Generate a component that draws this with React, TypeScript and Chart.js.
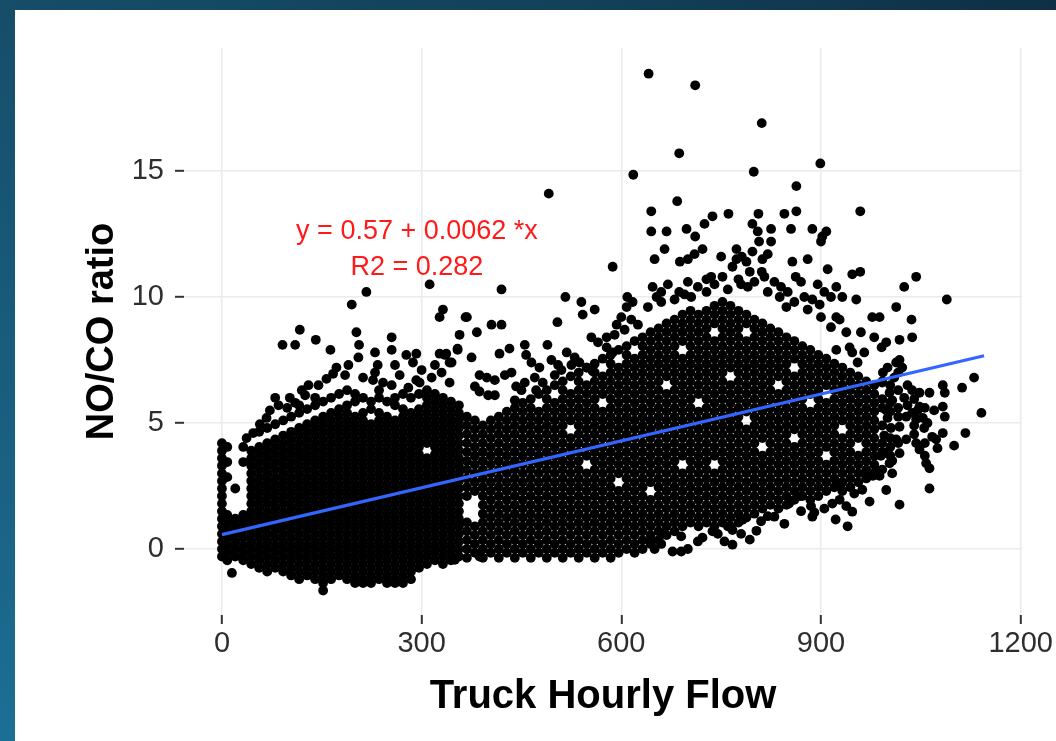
import React, { useEffect, useRef } from "react";
import { Chart, registerables } from "chart.js";

Chart.register(...registerables);

// ---- axis ticks and labels ----
const xTicks = [0, 300, 600, 900, 1200];
const yTicks = [0, 5, 10, 15];
const xTitle = "Truck Hourly Flow";
const yTitle = "NO/CO ratio";

// ---- regression line ----
const fitX = [0, 1145];
const fitY = [0.57, 7.67];
const equationText = "y = 0.57 + 0.0062 *x";
const r2Text = "R2 = 0.282";
const labelX = 293;
const labelY = [12.6, 11.15];

// ---- dense low-flow cloud: [flow, ratio, ratio, ...] ----
const lowFlowCore: number[][] = [
  [0, -0.3, 0, 0.3, 0.6, 0.9, 1.2, 1.5, 1.8, 2.1, 2.4, 2.7, 3, 3.3, 3.6, 3.9, 4.2],
  [8, -0.45, -0.15, 0.15, 0.45, 0.75, 1.05, 1.35, 2.85, 3.45, 4.05],
  [20, -0.3, 0, 0.3, 0.6, 0.9, 1.2, 2.4],
  [32, -0.45, -0.15, 0.15, 0.45, 0.75, 1.05, 1.35, 3.45, 4.05],
  [44, -0.6, -0.3, 0, 0.3, 0.6, 0.9, 1.2, 1.5, 1.8, 2.1, 2.4, 2.7, 3, 3.3, 3.6, 3.9],
  [56, -0.75, -0.45, -0.15, 0.15, 0.45, 0.75, 1.05, 1.35, 1.65, 1.95, 2.25, 2.55, 2.85, 3.15, 3.45, 3.75, 4.05, 4.65],
  [68, -0.9, -0.6, -0.3, 0, 0.3, 0.6, 0.9, 1.2, 1.5, 1.8, 2.1, 2.4, 2.7, 3, 3.3, 3.6, 3.9, 4.2, 4.8],
  [80, -0.75, -0.45, -0.15, 0.15, 0.45, 0.75, 1.05, 1.35, 1.65, 1.95, 2.25, 2.55, 2.85, 3.15, 3.45, 3.75, 4.05, 4.35, 4.95],
  [92, -0.9, -0.6, -0.3, 0, 0.3, 0.6, 0.9, 1.2, 1.5, 1.8, 2.1, 2.4, 2.7, 3, 3.3, 3.6, 3.9, 4.2, 4.5, 5.1],
  [104, -1.05, -0.75, -0.45, -0.15, 0.15, 0.45, 0.75, 1.05, 1.35, 1.65, 1.95, 2.25, 2.55, 2.85, 3.15, 3.45, 3.75, 4.05, 4.35, 4.65, 5.25],
  [116, -1.2, -0.9, -0.6, -0.3, 0, 0.3, 0.6, 0.9, 1.2, 1.5, 1.8, 2.1, 2.4, 2.7, 3, 3.3, 3.6, 3.9, 4.2, 4.5, 4.8, 5.4, 5.7],
  [128, -1.05, -0.75, -0.45, -0.15, 0.15, 0.45, 0.75, 1.05, 1.35, 1.65, 1.95, 2.25, 2.55, 2.85, 3.15, 3.45, 3.75, 4.05, 4.35, 4.65, 4.95, 5.55],
  [140, -1.2, -0.9, -0.6, -0.3, 0, 0.3, 0.6, 0.9, 1.2, 1.5, 1.8, 2.1, 2.4, 2.7, 3, 3.3, 3.6, 3.9, 4.2, 4.5, 4.8, 5.1, 5.7, 6],
  [152, -1.65, -1.35, -1.05, -0.75, -0.45, -0.15, 0.15, 0.45, 0.75, 1.05, 1.35, 1.65, 1.95, 2.25, 2.55, 2.85, 3.15, 3.45, 3.75, 4.05, 4.35, 4.65, 4.95, 5.25, 5.85],
  [164, -1.2, -0.9, -0.6, -0.3, 0, 0.3, 0.6, 0.9, 1.2, 1.5, 1.8, 2.1, 2.4, 2.7, 3, 3.3, 3.6, 3.9, 4.2, 4.5, 4.8, 5.1, 5.4, 6],
  [176, -1.05, -0.75, -0.45, -0.15, 0.15, 0.45, 0.75, 1.05, 1.35, 1.65, 1.95, 2.25, 2.55, 2.85, 3.15, 3.45, 3.75, 4.05, 4.35, 4.65, 4.95, 5.25, 5.55, 6.15],
  [188, -1.2, -0.9, -0.6, -0.3, 0, 0.3, 0.6, 0.9, 1.2, 1.5, 1.8, 2.1, 2.4, 2.7, 3, 3.3, 3.6, 3.9, 4.2, 4.5, 4.8, 5.1, 5.4, 5.7, 6.3],
  [200, -1.35, -1.05, -0.75, -0.45, -0.15, 0.15, 0.45, 0.75, 1.05, 1.35, 1.65, 1.95, 2.25, 2.55, 2.85, 3.15, 3.45, 3.75, 4.05, 4.35, 4.65, 4.95, 5.25, 5.85, 6.15],
  [212, -1.35, -1.2, -0.9, -0.6, -0.3, 0, 0.3, 0.6, 0.9, 1.2, 1.5, 1.8, 2.1, 2.4, 2.7, 3, 3.3, 3.6, 3.9, 4.2, 4.5, 4.8, 5.1, 5.4, 6],
  [224, -1.35, -1.05, -0.75, -0.45, -0.15, 0.15, 0.45, 0.75, 1.05, 1.35, 1.65, 1.95, 2.25, 2.55, 2.85, 3.15, 3.45, 3.75, 4.05, 4.35, 4.65, 4.95, 5.55, 5.85],
  [236, -1.2, -0.9, -0.6, -0.3, 0, 0.3, 0.6, 0.9, 1.2, 1.5, 1.8, 2.1, 2.4, 2.7, 3, 3.3, 3.6, 3.9, 4.2, 4.5, 4.8, 5.1, 5.4, 6, 6.3],
  [248, -1.35, -1.05, -0.75, -0.45, -0.15, 0.15, 0.45, 0.75, 1.05, 1.35, 1.65, 1.95, 2.25, 2.55, 2.85, 3.15, 3.45, 3.75, 4.05, 4.35, 4.65, 4.95, 5.25, 5.85],
  [260, -1.35, -1.2, -0.9, -0.6, -0.3, 0, 0.3, 0.6, 0.9, 1.2, 1.5, 1.8, 2.1, 2.4, 2.7, 3, 3.3, 3.6, 3.9, 4.2, 4.5, 4.8, 5.1, 5.7, 6],
  [272, -1.35, -1.05, -0.75, -0.45, -0.15, 0.15, 0.45, 0.75, 1.05, 1.35, 1.65, 1.95, 2.25, 2.55, 2.85, 3.15, 3.45, 3.75, 4.05, 4.35, 4.65, 4.95, 5.25, 5.55, 6.15],
  [284, -1.2, -0.9, -0.6, -0.3, 0, 0.3, 0.6, 0.9, 1.2, 1.5, 1.8, 2.1, 2.4, 2.7, 3, 3.3, 3.6, 3.9, 4.2, 4.5, 4.8, 5.1, 5.4, 6],
  [296, -0.75, -0.45, -0.15, 0.15, 0.45, 0.75, 1.05, 1.35, 1.65, 1.95, 2.25, 2.55, 2.85, 3.15, 3.45, 3.75, 4.05, 4.35, 4.65, 4.95, 5.25, 5.55, 6.15],
  [308, -0.6, -0.3, 0, 0.3, 0.6, 0.9, 1.2, 1.5, 1.8, 2.1, 2.4, 2.7, 3, 3.3, 3.6, 4.2, 4.5, 4.8, 5.1, 5.4, 5.7, 6, 6.3],
  [320, -0.45, -0.15, 0.15, 0.45, 0.75, 1.05, 1.35, 1.65, 1.95, 2.25, 2.55, 2.85, 3.15, 3.45, 3.75, 4.05, 4.35, 4.65, 4.95, 5.25, 5.55, 5.85, 6.15],
  [332, -0.6, -0.3, 0, 0.3, 0.6, 0.9, 1.2, 1.5, 1.8, 2.1, 2.4, 2.7, 3, 3.3, 3.6, 3.9, 4.2, 4.5, 4.8, 5.1, 5.4, 5.7, 6],
  [344, -0.45, -0.15, 0.15, 0.45, 0.75, 1.05, 1.35, 1.65, 1.95, 2.25, 2.55, 2.85, 3.15, 3.45, 3.75, 4.05, 4.35, 4.65, 4.95, 5.25, 5.55, 5.85],
  [356, -0.3, 0, 0.3, 0.6, 0.9, 1.2, 1.5, 1.8, 2.1, 2.4, 2.7, 3, 3.3, 3.6, 3.9, 4.2, 4.5, 4.8, 5.1, 5.4, 5.7],
];

// ---- dense high-flow cloud: [flow, ratio, ratio, ...] ----
const highFlowCore: number[][] = [
  [368, -0.35, 0, 0.35, 0.7, 1.05, 2.1, 2.45, 2.8, 3.15, 3.5, 3.85, 4.2, 4.55, 4.9, 5.25],
  [380, -0.15, 0.2, 0.55, 0.9, 2.3, 2.65, 3, 3.35, 3.7, 4.05, 4.4, 4.75, 5.1],
  [392, -0.35, 0, 0.35, 0.7, 1.05, 1.4, 1.75, 2.1, 2.45, 2.8, 3.15, 3.5, 3.85, 4.2, 4.55, 4.9],
  [404, -0.15, 0.2, 0.55, 0.9, 1.25, 1.6, 1.95, 2.3, 2.65, 3, 3.35, 3.7, 4.05, 4.4, 4.75, 5.1],
  [416, -0.35, 0, 0.35, 0.7, 1.05, 1.4, 1.75, 2.1, 2.45, 2.8, 3.15, 3.5, 3.85, 4.2, 4.55, 4.9, 5.25],
  [428, -0.15, 0.2, 0.55, 0.9, 1.25, 1.6, 1.95, 2.3, 2.65, 3, 3.35, 3.7, 4.05, 4.4, 4.75, 5.1, 5.45],
  [440, -0.35, 0, 0.35, 0.7, 1.05, 1.4, 1.75, 2.1, 2.45, 2.8, 3.15, 3.5, 3.85, 4.2, 4.55, 4.9, 5.25, 5.6],
  [452, -0.15, 0.2, 0.55, 0.9, 1.25, 1.6, 1.95, 2.3, 2.65, 3, 3.35, 3.7, 4.05, 4.4, 4.75, 5.1, 5.45, 5.8],
  [464, -0.35, 0, 0.35, 0.7, 1.05, 1.4, 1.75, 2.1, 2.45, 2.8, 3.15, 3.5, 3.85, 4.2, 4.55, 4.9, 5.25, 5.6, 5.95],
  [476, -0.15, 0.2, 0.55, 0.9, 1.25, 1.6, 1.95, 2.3, 2.65, 3, 3.35, 3.7, 4.05, 4.4, 4.75, 5.1, 5.45, 6.15],
  [488, -0.35, 0, 0.35, 0.7, 1.05, 1.4, 1.75, 2.1, 2.45, 2.8, 3.15, 3.5, 3.85, 4.2, 4.55, 4.9, 5.25, 5.6, 5.95, 6.3],
  [500, -0.15, 0.2, 0.55, 0.9, 1.25, 1.6, 1.95, 2.3, 2.65, 3, 3.35, 3.7, 4.05, 4.4, 4.75, 5.1, 5.45, 5.8, 6.5],
  [512, -0.35, 0, 0.35, 0.7, 1.05, 1.4, 1.75, 2.1, 2.45, 2.8, 3.15, 3.5, 3.85, 4.2, 4.55, 4.9, 5.25, 5.6, 5.95, 6.3, 6.65],
  [524, -0.15, 0.2, 0.55, 0.9, 1.25, 1.6, 1.95, 2.3, 2.65, 3, 3.35, 3.7, 4.05, 4.4, 5.1, 5.45, 5.8, 6.15, 6.85],
  [536, -0.35, 0, 0.35, 0.7, 1.05, 1.4, 1.75, 2.1, 2.45, 2.8, 3.15, 3.5, 3.85, 4.2, 4.55, 4.9, 5.25, 5.6, 5.95, 6.3, 6.65, 7],
  [548, -0.15, 0.2, 0.55, 0.9, 1.25, 1.6, 1.95, 2.3, 2.65, 3, 3.7, 4.05, 4.4, 4.75, 5.1, 5.45, 5.8, 6.15, 6.5, 7.2],
  [560, -0.35, 0, 0.35, 0.7, 1.05, 1.4, 1.75, 2.1, 2.45, 2.8, 3.15, 3.5, 3.85, 4.2, 4.55, 4.9, 5.25, 5.6, 5.95, 6.3, 6.65, 7, 7.35],
  [572, -0.15, 0.2, 0.55, 0.9, 1.25, 1.6, 1.95, 2.3, 2.65, 3, 3.35, 3.7, 4.05, 4.4, 4.75, 5.1, 5.45, 6.15, 6.5, 6.85, 7.55],
  [584, -0.35, 0, 0.35, 0.7, 1.05, 1.4, 1.75, 2.1, 2.45, 2.8, 3.15, 3.5, 3.85, 4.2, 4.55, 4.9, 5.25, 5.6, 5.95, 6.3, 6.65, 7, 7.35, 7.7],
  [596, -0.15, 0.2, 0.55, 0.9, 1.25, 1.6, 1.95, 2.3, 3, 3.35, 3.7, 4.05, 4.4, 4.75, 5.1, 5.45, 5.8, 6.15, 6.5, 6.85, 7.2, 7.9],
  [608, 0, 0.35, 0.7, 1.05, 1.4, 1.75, 2.1, 2.45, 2.8, 3.15, 3.5, 3.85, 4.2, 4.55, 4.9, 5.25, 5.6, 5.95, 6.3, 6.65, 7, 7.35, 7.7, 8.05],
  [620, -0.15, 0.2, 0.55, 0.9, 1.25, 1.6, 1.95, 2.3, 2.65, 3, 3.35, 3.7, 4.05, 4.4, 4.75, 5.1, 5.45, 5.8, 6.15, 6.5, 6.85, 7.2, 7.55, 8.25],
  [632, 0, 0.35, 0.7, 1.05, 1.4, 1.75, 2.1, 2.45, 2.8, 3.15, 3.5, 3.85, 4.2, 4.55, 4.9, 5.25, 5.6, 5.95, 6.3, 6.65, 7, 7.35, 7.7, 8.05, 8.4],
  [644, 0.2, 0.55, 0.9, 1.25, 1.6, 1.95, 2.65, 3, 3.35, 3.7, 4.05, 4.4, 4.75, 5.1, 5.45, 5.8, 6.15, 6.5, 6.85, 7.2, 7.55, 7.9, 8.25, 8.6],
  [656, 0.35, 0.7, 1.05, 1.4, 1.75, 2.1, 2.45, 2.8, 3.15, 3.5, 3.85, 4.2, 4.55, 4.9, 5.25, 5.6, 5.95, 6.3, 6.65, 7, 7.35, 7.7, 8.05, 8.4, 8.75],
  [668, 0.55, 0.9, 1.25, 1.6, 1.95, 2.3, 2.65, 3, 3.35, 3.7, 4.05, 4.4, 4.75, 5.1, 5.45, 5.8, 6.15, 6.85, 7.2, 7.55, 7.9, 8.25, 8.6, 8.95],
  [680, 0.7, 1.05, 1.4, 1.75, 2.1, 2.45, 2.8, 3.15, 3.5, 3.85, 4.2, 4.55, 4.9, 5.25, 5.6, 5.95, 6.3, 6.65, 7, 7.35, 7.7, 8.05, 8.4, 8.75, 9.1],
  [692, 0.9, 1.25, 1.6, 1.95, 2.3, 2.65, 3, 3.7, 4.05, 4.4, 4.75, 5.1, 5.45, 5.8, 6.15, 6.5, 6.85, 7.2, 7.55, 8.25, 8.6, 8.95, 9.3],
  [704, 1.05, 1.4, 1.75, 2.1, 2.45, 2.8, 3.15, 3.5, 3.85, 4.2, 4.55, 4.9, 5.25, 5.6, 5.95, 6.3, 6.65, 7, 7.35, 7.7, 8.05, 8.4, 8.75, 9.1, 9.45],
  [716, 0.9, 1.25, 1.6, 1.95, 2.3, 2.65, 3, 3.35, 3.7, 4.05, 4.4, 4.75, 5.1, 5.45, 6.15, 6.5, 6.85, 7.2, 7.55, 7.9, 8.25, 8.6, 8.95, 9.3],
  [728, 1.05, 1.4, 1.75, 2.1, 2.45, 2.8, 3.15, 3.5, 3.85, 4.2, 4.55, 4.9, 5.25, 5.6, 5.95, 6.3, 6.65, 7, 7.35, 7.7, 8.05, 8.4, 8.75, 9.1, 9.45],
  [740, 0.9, 1.25, 1.6, 1.95, 2.3, 2.65, 3, 3.7, 4.05, 4.4, 4.75, 5.1, 5.45, 5.8, 6.15, 6.5, 6.85, 7.2, 7.55, 7.9, 8.25, 8.95, 9.3, 9.65],
  [752, 1.05, 1.4, 1.75, 2.1, 2.45, 2.8, 3.15, 3.5, 3.85, 4.2, 4.55, 4.9, 5.25, 5.6, 5.95, 6.3, 6.65, 7, 7.35, 7.7, 8.05, 8.4, 8.75, 9.1, 9.45, 9.8],
  [764, 0.9, 1.25, 1.6, 1.95, 2.3, 2.65, 3, 3.35, 3.7, 4.05, 4.4, 4.75, 5.1, 5.45, 5.8, 6.15, 6.5, 7.2, 7.55, 7.9, 8.25, 8.6, 8.95, 9.3, 9.65],
  [776, 1.05, 1.4, 1.75, 2.1, 2.45, 2.8, 3.15, 3.5, 3.85, 4.2, 4.55, 4.9, 5.25, 5.6, 5.95, 6.3, 6.65, 7, 7.35, 7.7, 8.05, 8.4, 8.75, 9.1, 9.45],
  [788, 1.25, 1.6, 1.95, 2.3, 2.65, 3, 3.35, 3.7, 4.05, 4.4, 4.75, 5.45, 5.8, 6.15, 6.5, 6.85, 7.2, 7.55, 7.9, 8.25, 8.95, 9.3],
  [800, 1.4, 1.75, 2.1, 2.45, 2.8, 3.15, 3.5, 3.85, 4.2, 4.55, 4.9, 5.25, 5.6, 5.95, 6.3, 6.65, 7, 7.35, 7.7, 8.05, 8.4, 8.75, 9.1],
  [812, 1.6, 1.95, 2.3, 2.65, 3, 3.35, 3.7, 4.4, 4.75, 5.1, 5.45, 5.8, 6.15, 6.5, 6.85, 7.2, 7.55, 7.9, 8.25, 8.6, 8.95],
  [824, 1.75, 2.1, 2.45, 2.8, 3.15, 3.5, 3.85, 4.2, 4.55, 4.9, 5.25, 5.6, 5.95, 6.3, 6.65, 7, 7.35, 7.7, 8.05, 8.4, 8.75],
  [836, 1.6, 1.95, 2.3, 2.65, 3, 3.35, 3.7, 4.05, 4.4, 4.75, 5.1, 5.45, 5.8, 6.15, 6.85, 7.2, 7.55, 7.9, 8.25, 8.6],
  [848, 1.75, 2.1, 2.45, 2.8, 3.15, 3.5, 3.85, 4.2, 4.55, 4.9, 5.25, 5.6, 5.95, 6.3, 6.65, 7, 7.35, 7.7, 8.05, 8.4],
  [860, 1.95, 2.3, 2.65, 3, 3.35, 3.7, 4.05, 4.75, 5.1, 5.45, 5.8, 6.15, 6.5, 6.85, 7.55, 7.9, 8.25],
  [872, 2.1, 2.45, 2.8, 3.15, 3.5, 3.85, 4.2, 4.55, 4.9, 5.25, 5.6, 5.95, 6.3, 6.65, 7, 7.35, 7.7, 8.05],
  [884, 1.95, 2.3, 2.65, 3, 3.35, 3.7, 4.05, 4.4, 4.75, 5.1, 5.45, 6.15, 6.5, 6.85, 7.2, 7.55, 7.9],
  [896, 2.1, 2.45, 2.8, 3.15, 3.5, 3.85, 4.2, 4.55, 4.9, 5.25, 5.6, 5.95, 6.3, 6.65, 7, 7.35, 7.7],
  [908, 2.3, 2.65, 3, 3.35, 4.05, 4.4, 4.75, 5.1, 5.45, 5.8, 6.5, 6.85, 7.2, 7.55],
  [920, 2.45, 2.8, 3.15, 3.5, 3.85, 4.2, 4.55, 4.9, 5.25, 5.6, 5.95, 6.3, 6.65, 7, 7.35],
  [932, 2.3, 2.65, 3, 3.35, 3.7, 4.05, 4.4, 5.1, 5.45, 5.8, 6.15, 6.5, 6.85, 7.2],
  [944, 2.45, 2.8, 3.15, 3.5, 3.85, 4.2, 4.55, 4.9, 5.25, 5.6, 5.95, 6.3, 6.65, 7],
  [956, 2.65, 3, 3.35, 3.7, 4.4, 4.75, 5.1, 5.45, 5.8, 6.15, 6.5, 6.85],
  [968, 2.8, 3.15, 3.5, 3.85, 4.2, 4.55, 4.9, 5.25, 5.6, 5.95, 6.3, 6.65],
  [980, 3, 3.35, 3.7, 4.05, 4.4, 4.75, 5.1, 5.45, 5.8, 6.15, 6.5],
  [992, 3.15, 3.85, 4.2, 4.9, 5.6, 5.95, 6.65],
  [1004, 3.7, 4.05, 4.4, 5.45, 5.8, 6.5],
  [1016, 4.2, 5.25, 5.6, 6.3, 7.0],
  [1040, 4.55, 4.9, 5.95],
  [1056, 3.7, 4.2, 5.6],
];

// ---- scattered points around the low-flow cloud: [flow, ratio] ----
const lowFlowScatter: number[][] = [
  [15, -0.95], [37, 4.4], [47, 4.6], [57, 4.95], [67, 5.2], [72, 5.5], [85, 5.7], [80, 6.0], [98, 5.6],
  [102, 6.0], [110, 5.8], [120, 6.3], [125, 6.1], [130, 6.5], [145, 6.5], [157, 6.75], [167, 6.95],
  [172, 7.2], [185, 6.9], [190, 7.3], [205, 7.6], [212, 6.8], [227, 6.7], [230, 7.0], [234, 7.3],
  [242, 6.6], [255, 6.5], [260, 7.3], [267, 6.9], [280, 6.4], [287, 7.4], [292, 6.7], [297, 6.6],
  [300, 7.1], [315, 6.8], [320, 7.3], [330, 7.0], [342, 6.6], [342, 7.4], [277, 7.7], [292, 7.75],
  [327, 7.75], [337, 7.75], [354, 7.9], [375, 7.6], [163, 7.9], [91, 8.1], [110, 8.1], [141, 8.3],
  [117, 8.7], [202, 8.6], [206, 8.1], [255, 8.4], [255, 7.9], [230, 7.8], [357, 8.5], [383, 8.6],
  [327, 9.2], [332, 9.5], [366, 9.2], [195, 9.7], [217, 10.2], [312, 10.5], [350, -0.43], [387, -0.3],
];

// ---- scattered points around the high-flow cloud: [flow, ratio] ----
const highFlowScatter: number[][] = [
  [354, 7.95], [335, 7.7], [345, 7.4], [368, 9.2], [387, 6.9], [398, 6.8], [410, 6.7], [425, 6.9],
  [435, 7.0], [380, 6.45], [387, 6.25], [400, 6.1], [410, 6.1], [442, 6.45], [450, 6.3], [472, 6.3],
  [482, 6.6], [470, 6.8], [457, 7.7], [465, 7.4], [477, 7.2], [455, 8.1], [432, 7.95], [417, 7.75],
  [489, 8.1], [405, 8.9], [420, 8.9], [504, 9.0], [420, 10.3], [516, 10.0], [540, 9.8], [542, 9.3],
  [560, 9.5], [555, 8.4], [518, 7.8], [530, 7.6], [537, 7.4], [548, 7.2], [557, 7.05], [578, 8.4],
  [578, 8.0], [587, 7.8], [593, 8.9], [600, 9.2], [608, 9.6], [617, 9.8], [609, 10.0], [587, 11.2],
  [647, 10.4], [653, 10.0], [495, 7.5], [505, 7.3], [440, 5.9], [455, 6.6], [500, 6.9], [510, 7.1],
  [525, 7.3], [565, 8.2], [590, 8.5], [605, 8.7], [615, 9.1], [625, 8.9],
  [687, 10.2], [695, 10.1], [728, 10.2], [728, 10.7], [735, 10.8], [752, 10.8], [665, 11.9],
  [650, 11.5], [688, 11.4], [700, 11.5], [710, 11.7], [722, 11.9], [750, 11.6], [773, 11.9],
  [781, 11.6], [788, 11.4], [793, 11.0], [773, 11.5], [767, 11.2], [797, 11.8], [812, 11.5],
  [820, 11.7], [811, 11.0], [857, 11.4], [880, 11.5], [910, 11.1], [923, 10.4], [838, 10.0],
  [848, 9.6], [875, 10.0], [887, 9.9], [898, 9.7], [923, 9.2], [932, 10.0], [953, 9.9], [959, 11.0],
  [776, 10.7], [780, 10.5], [790, 10.4], [800, 10.6], [815, 10.8], [830, 10.6], [840, 10.4],
  [850, 10.2], [862, 10.8], [870, 10.6], [895, 10.5], [905, 10.2], [915, 10.0], [760, 10.3],
  [740, 10.5], [715, 10.4], [700, 10.6], [670, 10.5], [660, 10.2], [640, 9.6], [660, 9.8], [680, 9.9],
  [705, 10.0], [820, 10.2], [860, 9.8], [880, 9.5], [900, 9.2], [915, 8.8], [928, 9.1], [938, 8.6],
  [943, 8.0], [947, 7.8], [923, 7.9], [977, 9.2], [988, 9.2], [998, 8.2], [991, 8.0], [1018, 8.3],
  [1037, 8.4], [980, 8.4], [960, 8.6], [965, 7.8], [955, 7.4],
  [1018, 7.5], [1022, 7.2], [1013, 7.4], [1037, 6.3], [1048, 6.2], [1030, 6.5], [1063, 6.2],
  [1083, 6.5], [1086, 6.2], [1083, 5.65], [1086, 5.25], [1112, 6.4], [1130, 6.8], [1141, 5.4],
  [1117, 4.6], [1100, 4.1], [1045, 5.5], [1053, 5.2], [1048, 5.65], [1067, 4.45], [1073, 4.35],
  [1083, 4.6], [1058, 3.4], [1063, 3.2], [1043, 4.2], [1048, 3.95], [1028, 4.35], [1018, 3.8],
  [1007, 3.5], [998, 3.8], [1063, 2.4], [1018, 1.76], [998, 2.34], [990, 3.7], [983, 3.15],
  [988, 2.9], [1007, 3.0], [1003, 3.4], [1037, 5.4], [1043, 5.15], [1028, 5.25], [1003, 6.2],
  [1007, 5.9], [998, 5.5], [1000, 5.2], [1018, 4.85], [1013, 4.35], [992, 6.6], [995, 4.5],
  [1005, 4.8], [1010, 6.8], [1025, 6.0], [1030, 5.7], [1055, 4.8], [1060, 5.0], [1070, 5.5],
  [1075, 4.0], [993, 7.0], [1000, 7.2],
];

// ---- points below the high-flow cloud: [flow, ratio] ----
const highFlowLower: number[][] = [
  [645, 0.37], [677, -0.1], [722, 0.45], [767, 0.17], [793, 0.37], [803, 0.72], [830, 1.28],
  [887, 1.28], [922, 1.17], [940, 0.9], [947, 1.48], [973, 1.88], [782, 1.16], [767, 0.75],
  [737, 0.7], [852, 1.8], [868, 2.1], [885, 1.7], [890, 1.45], [917, 1.8], [928, 1.95], [938, 1.7],
  [962, 2.35], [968, 2.9], [978, 2.9], [660, 0.2], [690, 0.5], [700, 0.0], [715, 0.3], [745, 0.6],
  [755, 0.3], [690, -0.1], [820, 1.3], [845, 1.0], [870, 1.5], [905, 1.6], [950, 2.2], [930, 2.6],
  [760, 0.9], [780, 0.6], [810, 1.1], [650, 0.0], [665, 0.6],
];

// ---- isolated high values: [flow, ratio] ----
const outliers: number[][] = [
  [641, 18.86], [711, 18.4], [811, 16.9], [687, 15.7], [618, 14.85], [799, 14.97], [899, 15.3],
  [863, 14.4], [491, 14.1], [684, 13.8], [645, 13.4], [761, 13.3], [806, 13.3], [845, 13.3],
  [863, 13.4], [959, 13.4], [645, 12.6], [668, 12.6], [698, 12.7], [711, 12.4], [725, 12.9],
  [737, 13.2], [797, 12.9], [805, 12.6], [807, 12.2], [825, 12.7], [825, 12.2], [855, 12.7],
  [887, 12.7], [902, 12.4], [908, 12.6], [900, 12.2], [947, 10.9], [1089, 9.9], [1043, 10.8],
  [1025, 10.4], [1013, 9.6], [1036, 9.1],
];

const FONT = '"Liberation Sans", Arial, Helvetica, sans-serif';

function rowsToPoints(rows: number[][]) {
  return rows.flatMap(([x, ...ys]) => ys.map((y) => ({ x, y })));
}
function pairsToPoints(pairs: number[][]) {
  return pairs.map(([x, y]) => ({ x, y }));
}

const annotationPlugin = {
  id: "equationLabel",
  afterDatasetsDraw(chart: any) {
    const { ctx, scales } = chart;
    const px = scales.x.getPixelForValue(labelX);
    ctx.save();
    ctx.fillStyle = "#ff1a1a";
    ctx.font = `27px ${FONT}`;
    ctx.textAlign = "center";
    ctx.textBaseline = "middle";
    ctx.fillText(equationText, px, scales.y.getPixelForValue(labelY[0]));
    ctx.fillText(r2Text, px, scales.y.getPixelForValue(labelY[1]));
    ctx.restore();
  },
};

export default function App() {
  const canvasRef = useRef<HTMLCanvasElement | null>(null);

  useEffect(() => {
    document.body.style.margin = "0";
    const canvas = canvasRef.current;
    if (!canvas) return;
    const points = [
      ...rowsToPoints(lowFlowCore),
      ...rowsToPoints(highFlowCore),
      ...pairsToPoints(lowFlowScatter),
      ...pairsToPoints(highFlowScatter),
      ...pairsToPoints(highFlowLower),
      ...pairsToPoints(outliers),
    ];
    const fitPoints = fitX.map((x, i) => ({ x, y: fitY[i] }));

    const chart = new Chart(canvas, {
      type: "scatter",
      data: {
        datasets: [
          {
            type: "line",
            data: fitPoints,
            borderColor: "#3366FF",
            borderWidth: 3.2,
            pointRadius: 0,
            fill: false,
            order: 0,
          } as any,
          {
            type: "scatter",
            data: points,
            backgroundColor: "#000000",
            borderWidth: 0,
            pointRadius: 4.9,
            pointHoverRadius: 4.9,
            order: 1,
          },
        ],
      },
      options: {
        animation: false,
        responsive: false,
        maintainAspectRatio: false,
        events: [],
        layout: { padding: { top: 38, right: 34, left: 0, bottom: 0 } },
        plugins: {
          legend: { display: false },
          tooltip: { enabled: false },
        },
        scales: {
          x: {
            type: "linear",
            min: -57,
            max: 1202,
            afterBuildTicks: (scale: any) => {
              scale.ticks = xTicks.map((v) => ({ value: v }));
            },
            afterFit: (scale: any) => {
              scale.height = 126;
            },
            border: { display: false },
            grid: {
              color: "#ebebeb",
              lineWidth: 1.6,
              drawTicks: true,
              tickLength: 9,
              tickColor: "#333333",
              tickWidth: 2,
            },
            ticks: {
              color: "#2e2e2e",
              font: { family: FONT, size: 29 },
              padding: 3,
              maxRotation: 0,
              autoSkip: false,
              callback: (v: any) => String(v),
            },
            title: {
              display: true,
              text: xTitle,
              color: "#000000",
              font: { family: FONT, size: 40, weight: "bold" },
              padding: { top: 0, bottom: 20 },
            },
          },
          y: {
            type: "linear",
            min: -2.62,
            max: 19.88,
            afterBuildTicks: (scale: any) => {
              scale.ticks = yTicks.map((v) => ({ value: v }));
            },
            afterFit: (scale: any) => {
              scale.width = 169;
            },
            border: { display: false },
            grid: {
              color: "#ebebeb",
              lineWidth: 1.6,
              drawTicks: true,
              tickLength: 9,
              tickColor: "#333333",
              tickWidth: 2,
            },
            ticks: {
              color: "#2e2e2e",
              font: { family: FONT, size: 29 },
              padding: 11,
              autoSkip: false,
              callback: (v: any) => String(v),
            },
            title: {
              display: true,
              text: yTitle,
              color: "#000000",
              font: { family: FONT, size: 38, weight: "bold" },
              padding: { top: 65, bottom: 0 },
            },
          },
        },
      },
      plugins: [annotationPlugin],
    });
    return () => chart.destroy();
  }, []);

  return (
    <div
      style={{
        position: "fixed",
        left: 0,
        top: 0,
        width: 1056,
        height: 741,
        overflow: "hidden",
        background: "#ffffff",
      }}
    >
      <div
        style={{
          position: "absolute",
          left: 0,
          top: 0,
          width: 1056,
          height: 10,
          background: "linear-gradient(to right, #164d69, #123f58 60%, #0e2f44)",
        }}
      />
      <div
        style={{
          position: "absolute",
          left: 0,
          top: 0,
          width: 15,
          height: 741,
          background: "linear-gradient(to bottom, #164d69, #1a6386 70%, #1c6f95)",
        }}
      />
      <canvas
        ref={canvasRef}
        width={1041}
        height={731}
        style={{ position: "absolute", left: 15, top: 10, background: "#ffffff" }}
      />
    </div>
  );
}
